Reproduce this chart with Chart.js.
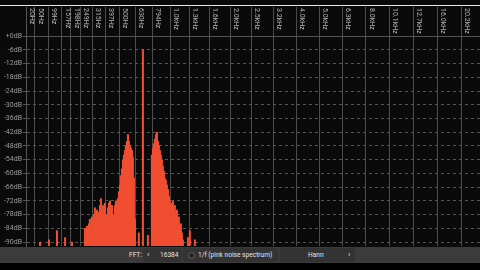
<!DOCTYPE html>
<html>
<head>
<meta charset="utf-8">
<script src="https://cdn.jsdelivr.net/npm/chart.js@4.4.1/dist/chart.umd.min.js"></script>
<style>
  html, body { margin: 0; padding: 0; width: 480px; height: 270px; overflow: hidden; background: #000; font-family: Roboto, "Noto Sans", sans-serif; }
  #wrap { position: absolute; left: 0; top: 0; width: 480px; height: 247px; background: #0a0a0a; }
  #topline { position: absolute; left: 0; top: 5px; width: 480px; height: 1px; background: #e8e8e8; }
  #bar { position: absolute; left: 0; top: 247px; width: 480px; height: 16px; background: #3b3b3b; color: #e4e4e4; font-size: 6.6px; }
  #bar span { position: absolute; top: 0; line-height: 16px; white-space: nowrap; }
  .box { position: absolute; top: 1px; height: 14px; background: #333; border-radius: 3px; }
  .box span { line-height: 14px !important; }
  .dot { position: absolute; left: 5px; top: 4px; width: 5px; height: 5px; border-radius: 50%; background: #222; border: 1px solid #666; }
</style>
</head>
<body>
<div id="wrap"><canvas id="spec" width="480" height="247"></canvas></div>
<div id="topline"></div>
<div id="bar">
  <span style="left:129px">FFT:</span>
  <div class="box" style="left:143px;width:39px"><span style="left:4px;font-size:8px">‹</span><span style="left:17px">16384</span></div>
  <div class="box" style="left:183px;width:95px"><i class="dot"></i><span style="left:15px">1/f (pink noise spectrum)</span></div>
  <div class="box" style="left:280px;width:75px"><span style="left:28px">Hann</span><span style="left:68px;font-size:8px">›</span></div>
</div>
<script>
// frequency grid shown along the top
const tickHz = [20, 50, 99, 157, 198, 249, 315, 397, 500, 630, 794, 1000, 1260, 1590, 2000, 2520, 3170, 4000, 5040, 6350, 8000, 10080, 12700, 16000, 20160];
const tickLabels = ['20Hz', '50Hz', '99Hz', '157Hz', '198Hz', '249Hz', '315Hz', '397Hz', '500Hz', '630Hz', '794Hz', '1.0kHz', '1.3kHz', '1.6kHz', '2.0kHz', '2.5kHz', '3.2kHz', '4.0kHz', '5.0kHz', '6.3kHz', '8.0kHz', '10.1kHz', '12.7kHz', '16.0kHz', '20.2kHz'];
const dbTicks = [0, -6, -12, -18, -24, -30, -36, -42, -48, -54, -60, -66, -72, -78, -84, -90];

// spectrum bins (Hz / dB)
const spikeHz = [68, 102, 135, 171, 204, 272, 663, 701, 750, 1239, 1268, 1345];
const spikeDb = [-90, -89, -85, -88, -90, -84, -86, -6, -87, -88, -85, -89];
const lowHumpHz = [278, 283, 289, 295, 300, 306, 312, 318, 324, 330, 337, 343, 349, 355, 362, 368, 375, 381, 388, 394, 401, 408, 415, 422, 429, 436, 443, 450, 457, 465, 472, 480, 487, 495, 503, 510, 518, 526, 534, 542, 550, 558, 567, 575, 584, 592, 601, 609, 618, 627];
const lowHumpDb = [-86, -83, -85, -82, -80, -84, -79, -82, -78, -75, -79, -76, -80, -77, -74, -71, -78, -74, -76, -73, -78, -80, -75, -73, -72, -76, -74, -78, -80, -74, -72, -73, -71, -68, -65, -61, -58, -54, -52, -50, -48, -46, -43, -46, -48, -49, -50, -53, -62, -80];
const highHumpHz = [791, 802, 812, 823, 834, 845, 856, 867, 878, 889, 901, 912, 924, 936, 947, 959, 972, 984, 996, 1009, 1021, 1034, 1046, 1059, 1072, 1086, 1099, 1112, 1126, 1139, 1153, 1167];
const highHumpDb = [-52, -49, -47, -45, -43, -42, -46, -48, -50, -52, -54, -57, -59, -62, -63, -65, -67, -70, -72, -74, -73, -72, -75, -74, -77, -76, -80, -79, -83, -82, -86, -89];

const fMin = 20, fMax = 24000;
const dbMin = -91.7, dbMax = 12.7;

// the analyzer's frequency axis: log with a low-end offset
const warp = (f) => Math.log(f + 320);

const bins = [];
[[spikeHz, spikeDb], [lowHumpHz, lowHumpDb], [highHumpHz, highHumpDb]].forEach(([hz, db]) => {
  hz.forEach((f, i) => bins.push({ x: warp(f), y: db[i] }));
});
bins.sort((a, b) => a.x - b.x);

const topLabels = {
  id: 'topLabels',
  afterDraw(chart) {
    const sx = chart.scales.x;
    const ctx = chart.ctx;
    ctx.save();
    ctx.fillStyle = '#b4b4b4';
    ctx.font = '7px Roboto';
    ctx.textBaseline = 'bottom';
    tickHz.forEach((f, i) => {
      const x = sx.getPixelForValue(warp(f));
      ctx.save();
      ctx.translate(x + 2, 8);
      ctx.rotate(Math.PI / 2);
      ctx.fillText(tickLabels[i], 0, 0);
      ctx.restore();
    });
    ctx.restore();
  }
};

new Chart(document.getElementById('spec'), {
  type: 'bar',
  data: {
    datasets: [{
      data: bins,
      base: dbMin,
      backgroundColor: '#f04e31',
      barThickness: 1.4,
      borderWidth: 0
    }]
  },
  options: {
    responsive: false,
    animation: false,
    layout: { padding: { top: 7, right: 0, bottom: 1, left: 0 } },
    plugins: { legend: { display: false }, tooltip: { enabled: false } },
    scales: {
      x: {
        type: 'linear',
        position: 'top',
        offset: false,
        min: warp(fMin),
        max: warp(fMax),
        afterBuildTicks: (s) => { s.ticks = tickHz.map((f) => ({ value: warp(f) })); },
        afterFit: (s) => { s.height = 0; s.paddingLeft = 0; s.paddingRight = 0; },
        ticks: { display: false },
        grid: { color: '#4c4c4c', lineWidth: 1, drawTicks: false, offset: false },
        border: { display: false }
      },
      y: {
        min: dbMin,
        max: dbMax,
        afterBuildTicks: (s) => { s.ticks = dbTicks.map((v) => ({ value: v })); },
        afterFit: (s) => { s.width = 26; s.paddingTop = 0; s.paddingBottom = 0; },
        ticks: {
          color: '#9c9c9c',
          font: { family: 'Roboto', size: 7 },
          padding: 1,
          callback: (v) => (v === 0 ? '+0' : v) + 'dB'
        },
        grid: { color: '#555', lineWidth: 1, tickLength: 3 },
        border: {
          display: true,
          color: '#555',
          dash: (c) => (c.type === 'tick' && c.tick && c.tick.value !== 0) ? [3, 3] : []
        }
      }
    }
  },
  plugins: [topLabels]
});
</script>
</body>
</html>
